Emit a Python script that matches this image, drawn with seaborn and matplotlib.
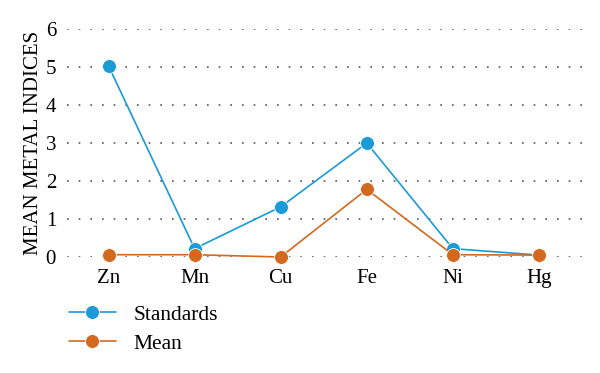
import pandas as pd
import matplotlib.pyplot as plt
import seaborn as sns

# datos
metales = ["Zn", "Mn", "Cu", "Fe", "Ni", "Hg"]
standards = [5.03, 0.22, 1.32, 3.0, 0.22, 0.05]
mean = [0.06, 0.06, 0.0, 1.78, 0.06, 0.05]

df = pd.DataFrame({
    "Metal": metales * 2,
    "Valor": standards + mean,
    "Serie": ["Standards"] * len(metales) + ["Mean"] * len(metales),
})
df["x"] = list(range(len(metales))) * 2

sns.set_style("white")
plt.rcParams["font.family"] = ["Liberation Serif", "DejaVu Serif"]
plt.rcParams["text.color"] = "black"

fig = plt.figure(figsize=(6, 3.73), dpi=100)
ax = fig.add_axes([0.112, 0.311, 0.858, 0.611])

sns.lineplot(data=df, x="x", y="Valor", hue="Serie", sort=False,
             palette=["#1a9ad6", "#d2691e"], marker="o", markersize=10,
             markeredgecolor="white", markeredgewidth=0.6, linewidth=1.2,
             ax=ax, legend=True, clip_on=False)

ax.set_xlim(-0.48, 5.5)
ax.set_ylim(0, 6)
ax.set_yticks(range(7))
ax.set_xticks(range(len(metales)))
ax.set_xticklabels(metales)
ax.tick_params(axis="both", length=0, labelsize=15, labelcolor="black")
ax.tick_params(axis="x", pad=9)
ax.tick_params(axis="y", pad=8)
ax.grid(axis="y", linestyle=(0, (1, 6)), color="#555555", linewidth=1.2)
ax.grid(axis="x", visible=False)
for s in ax.spines.values():
    s.set_visible(False)
ax.set_xlabel("")
ax.set_ylabel("MEAN METAL INDICES", fontsize=15, labelpad=2, color="black")

ax.legend(loc="upper left", bbox_to_anchor=(-0.035, -0.125), frameon=False,
          fontsize=15.5, handlelength=2.2, labelspacing=0.4, handletextpad=0.8)

fig.savefig("out.png", dpi=100)
